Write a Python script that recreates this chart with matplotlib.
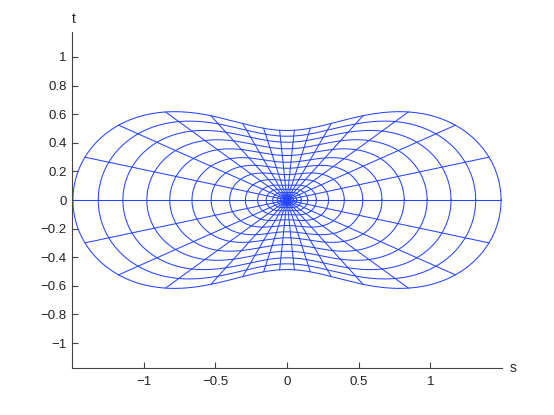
import numpy as np
import matplotlib
matplotlib.use("Agg")
import matplotlib.pyplot as plt

plt.rcParams['font.family'] = ['Liberation Sans', 'DejaVu Sans']

# ring crossings (outer -> inner)
ring_s = [1.494, 1.317, 1.145, 0.978, 0.818, 0.663, 0.529, 0.400, 0.290,
          0.205, 0.145, 0.100, 0.068, 0.045, 0.028, 0.015]
ring_t = [0.486, 0.446, 0.404, 0.358, 0.311, 0.264, 0.222, 0.178, 0.138,
          0.102, 0.074, 0.052, 0.035, 0.023, 0.014, 0.008]
ray_deg = [12 * k for k in range(30)]
xticks = [-1, -0.5, 0, 0.5, 1]
yticks = [-1, -0.8, -0.6, -0.4, -0.2, 0, 0.2, 0.4, 0.6, 0.8, 1]


def ring_radius(X, Y, th):
    a2 = (X**2 - Y**2) / 2.0
    b2 = (X**2 + Y**2) / 2.0
    return np.sqrt(a2 * np.cos(2 * th) + np.sqrt(b2**2 - (a2 * np.sin(2 * th))**2))


fig = plt.figure(figsize=(5.54, 4.15), dpi=100)
ax = fig.add_axes([0.130, 0.113, 0.776, 0.810])

col = '#2645ff'
lw = 0.75
th = np.linspace(0, 2 * np.pi, 721)
for X, Y in zip(ring_s, ring_t):
    r = ring_radius(X, Y, th)
    ax.plot(r * np.cos(th), r * np.sin(th), color=col, lw=lw)

for d in ray_deg:
    a = np.deg2rad(d)
    rr = [0.0] + [ring_radius(X, Y, a) for X, Y in zip(ring_s[::-1], ring_t[::-1])]
    rr = np.array(rr)
    ax.plot(rr * np.cos(a), rr * np.sin(a), color=col, lw=lw)

ax.set_xlim(-1.5, 1.5)
ax.set_ylim(-1.175, 1.175)
ax.set_xticks(xticks)
ax.set_xticklabels(['\u22121', '\u22120.5', '0', '0.5', '1'])
ax.set_yticks(yticks)
ax.set_yticklabels(['\u22121', '\u22120.8', '\u22120.6', '\u22120.4', '\u22120.2',
                    '0', '0.2', '0.4', '0.6', '0.8', '1'])
for sp in ['top', 'right']:
    ax.spines[sp].set_visible(False)
for sp in ['left', 'bottom']:
    ax.spines[sp].set_color('#444444')
    ax.spines[sp].set_linewidth(0.8)
ax.tick_params(direction='in', length=4, width=0.8, color='#444444',
               labelsize=9.5, labelcolor='#222222')
ax.tick_params(axis='y', pad=4)
ax.tick_params(axis='x', pad=6)
ax.text(0.005, 1.04, 't', transform=ax.transAxes, fontsize=10,
        ha='center', va='center', color='#222222')
ax.text(1.026, 0.0, 's', transform=ax.transAxes, fontsize=10,
        ha='center', va='center', color='#222222')

fig.savefig('out.png', dpi=100)
